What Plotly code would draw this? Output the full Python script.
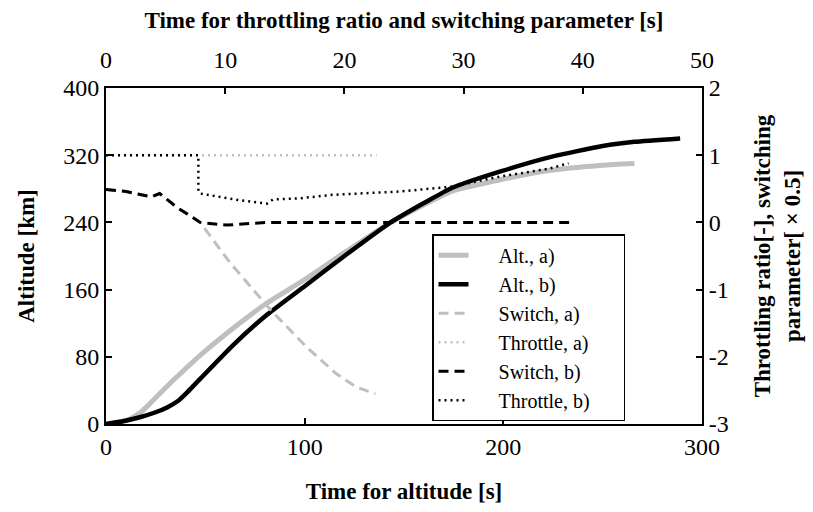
import plotly.graph_objects as go

# Altitude series (bottom x: time for altitude [s], left y: altitude [km])
alt_a_t = [0, 8, 12, 17, 22, 27, 32, 37.4, 47.5, 64, 81, 100, 120, 142, 160, 174, 199, 224, 250, 266]
alt_a_v = [0, 3, 6, 13, 24, 36, 48, 60, 82, 114, 144, 172, 204, 238, 261, 277, 291, 302, 308, 310]
alt_b_t = [0, 8, 17, 25, 31, 36, 41, 47.5, 64, 81, 100, 120, 142, 160, 174, 199, 224, 250, 266, 289]
alt_b_v = [0, 3, 8, 14, 20, 27, 38, 54, 94, 130, 164, 200, 238, 263, 281, 301, 318, 331, 336, 340]

# Switching parameter / throttle (top x: time [s], right y)
sw_a_t = [0, 1.7, 3.8, 4.5, 5.9, 7.3, 7.9, 10.4, 13.8, 16.8, 19.3, 21.0, 22.6]
sw_a_v = [0.49, 0.46, 0.38, 0.43, 0.23, 0.06, 0, -0.6, -1.3, -1.85, -2.25, -2.45, -2.55]
th_a_t = [0, 22.7]
th_a_v = [1, 1]
sw_b_t = [0, 1.7, 3.8, 4.5, 5.9, 7.3, 7.9, 10.1, 13.5, 39.0]
sw_b_v = [0.49, 0.46, 0.38, 0.43, 0.23, 0.06, 0, -0.04, 0, 0]
th_b_t = [0, 7.75, 7.75, 7.9, 11.2, 13.5, 14, 16.3, 19, 24.7, 28.9, 33, 37.2, 38.8]
th_b_v = [1, 1, 0.46, 0.43, 0.33, 0.28, 0.34, 0.36, 0.41, 0.46, 0.53, 0.68, 0.8, 0.88]

# Tick labels
y2_ticks = [-3, -2, -1, 0, 1, 2]
y2_labels = ["-3", "-2", "-1", "0", "1", "2"]

GRAY = "#bfbfbf"
FONT = "Liberation Serif, Times New Roman, serif"
PAD = "\u00a0" * 5

fig = go.Figure()
fig.add_trace(go.Scatter(x=alt_a_t, y=alt_a_v, mode="lines", name=PAD + "Alt., a)",
                         line=dict(color=GRAY, width=5, shape="spline", smoothing=0.5),
                         xaxis="x", yaxis="y"))
fig.add_trace(go.Scatter(x=alt_b_t, y=alt_b_v, mode="lines", name=PAD + "Alt., b)",
                         line=dict(color="black", width=4.5, shape="spline", smoothing=0.5),
                         xaxis="x", yaxis="y"))
fig.add_trace(go.Scatter(x=sw_a_t, y=sw_a_v, mode="lines", name=PAD + "Switch, a)",
                         line=dict(color=GRAY, width=3, dash="10px,6px"),
                         xaxis="x2", yaxis="y2"))
fig.add_trace(go.Scatter(x=th_a_t, y=th_a_v, mode="lines", name=PAD + "Throttle, a)" + "\u00a0" * 6,
                         line=dict(color=GRAY, width=2.5, dash="2px,4px"),
                         xaxis="x2", yaxis="y2"))
fig.add_trace(go.Scatter(x=sw_b_t, y=sw_b_v, mode="lines", name=PAD + "Switch, b)",
                         line=dict(color="black", width=3, dash="10px,6px"),
                         xaxis="x2", yaxis="y2"))
fig.add_trace(go.Scatter(x=th_b_t, y=th_b_v, mode="lines", name=PAD + "Throttle, b)",
                         line=dict(color="black", width=2.5, dash="2px,4px"),
                         xaxis="x2", yaxis="y2"))

axis_common = dict(showline=True, linecolor="black", linewidth=2, ticks="inside",
                   ticklen=6, tickwidth=1.5, tickcolor="black", showgrid=False,
                   zeroline=False, tickfont=dict(family=FONT, size=24, color="black"))
title_font = dict(family=FONT, size=23, color="black")

fig.update_layout(
    width=813, height=512,
    margin=dict(l=106, r=111, t=88, b=88),
    paper_bgcolor="white", plot_bgcolor="white",
    font=dict(family=FONT, size=22, color="black"),
    xaxis=dict(range=[0, 300], dtick=100, title=dict(text="<b>Time for altitude [s]</b>", font=title_font, standoff=24),
               **axis_common),
    yaxis=dict(range=[0, 400], dtick=80, title=dict(text="<b>Altitude [km]</b>", font=title_font, standoff=22),
               **axis_common),
    xaxis2=dict(range=[0, 50], dtick=10, overlaying="x", side="top", ticklabelstandoff=8,
                title=dict(text="<b>Time for throttling ratio and switching parameter [s]</b>", font=title_font, standoff=12),
                **axis_common),
    yaxis2=dict(range=[-3, 2], tickvals=y2_ticks, ticktext=y2_labels, overlaying="y", side="right",
                title=dict(text="<b>Throttling ratio[-], switching<br>parameter[ × 0.5]</b>", font=title_font, standoff=26),
                **axis_common),
    showlegend=True,
    legend=dict(x=0.547, y=0.565, xanchor="left", yanchor="top",
                bordercolor="black", borderwidth=1.5, bgcolor="white",
                font=dict(family=FONT, size=20, color="black"),
                tracegroupgap=0),
)

fig.write_html("out.html")
